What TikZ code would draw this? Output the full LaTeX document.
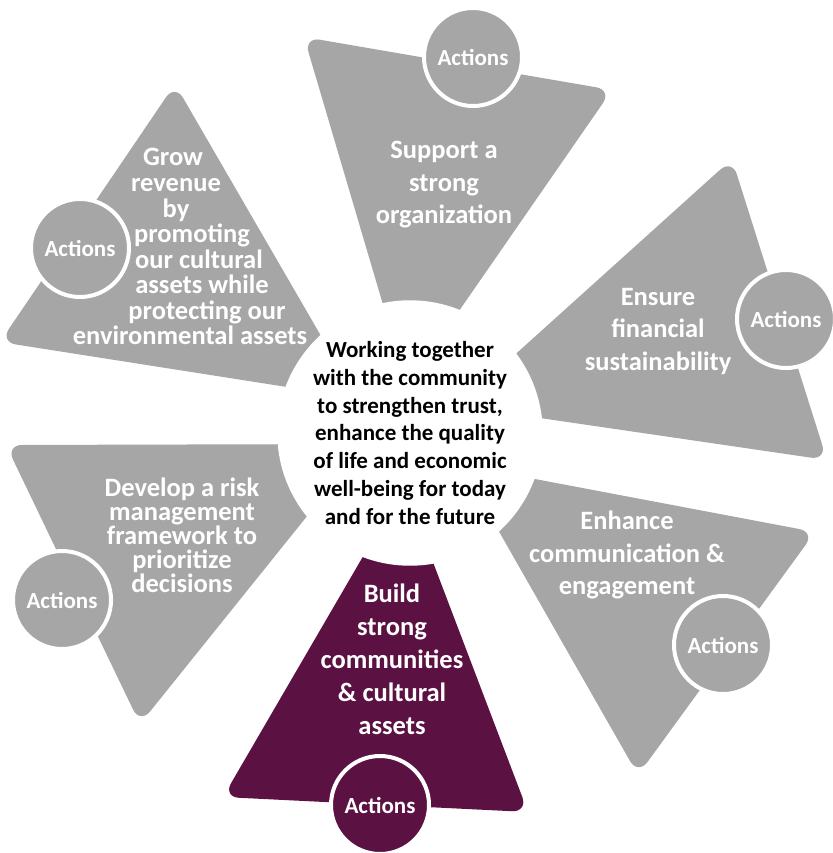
\documentclass[tikz,border=0pt]{standalone}
\usepackage{fontspec}
\setmainfont{Carlito}
\definecolor{petal}{RGB}{166,166,166}
\definecolor{plum}{RGB}{91,18,66}
\begin{document}
\begin{tikzpicture}[x=1pt,y=-1pt,
  petalshape/.style={fill=petal, rounded corners=16pt},
  actcircle/.style={circle, fill=petal, draw=white, line width=4pt, minimum size=98pt, inner sep=0pt,
    font=\fontsize{23}{27}\selectfont\bfseries, text=white},
  ptext/.style={align=center, text=white, inner sep=0pt, font=\fontsize{26.5}{32.5}\selectfont\bfseries},
  gline/.style={text=white, inner sep=0pt, anchor=base, font=\fontsize{26.5}{32.5}\selectfont\bfseries},
  hubstyle/.style={circle, fill=white, minimum size=244pt, inner sep=0pt, align=center,
    font=\fontsize{23}{27.7}\selectfont\bfseries, text=black}
]
\useasboundingbox (0,0) rectangle (832,853);
% petals
\fill[petalshape] (407,386) -- (304,37) -- (612,90) -- cycle;
\fill[petalshape] (458,406) -- (732,159) -- (827,460) -- cycle;
\fill[petalshape] (461,465) -- (815,532) -- (638,775) -- cycle;
\fill[petalshape, fill=plum] (404,486) -- (528,812) -- (223,797) -- cycle;
\fill[petalshape] (365,444) -- (140,724) -- (6,445) -- cycle;
\fill[petalshape] (357,398) -- (0,342) -- (175,84) -- cycle;
% hub
\coordinate (c) at (410,433);
\draw[black!10, line width=7pt] (c) circle[radius=123pt];
\draw[black!18, line width=3pt] (c) circle[radius=122pt];
\node[hubstyle] (hub) at (c) {Working together\\with the community\\to strengthen trust,\\enhance the quality\\of life and economic\\well-being for today\\and for the future};
% actions
\node[actcircle] (a1) at (473,57) {Actions};
\node[actcircle] (a2) at (786,319) {Actions};
\node[actcircle] (a3) at (723,645) {Actions};
\node[actcircle, fill=plum] (a4) at (380,805) {Actions};
\node[actcircle] (a5) at (62,600) {Actions};
\node[actcircle] (a6) at (80,248) {Actions};
% petal texts
\node[ptext] (t1) at (444,185) {Support a\\strong\\organization};
\node[ptext] (t2) at (658,331) {Ensure\\financial\\sustainability};
\node[ptext] (t3) at (627,555) {Enhance\\communication \&\\engagement};
\node[ptext, font=\fontsize{26.5}{33}\selectfont\bfseries] (t4) at (392,659) {Build\\strong\\communities\\\& cultural\\assets};
\node[ptext, font=\fontsize{26.5}{24}\selectfont\bfseries] (t5) at (182,535) {Develop a risk\\management\\framework to\\prioritize\\decisions};
\node[gline] (g1) at (173,166) {Grow};
\node[gline] (g2) at (176,191.5) {revenue};
\node[gline] (g3) at (176,217) {by};
\node[gline] (g4) at (192,242.5) {promoting};
\node[gline] (g5) at (199,268) {our cultural};
\node[gline] (g6) at (202,293.5) {assets while};
\node[gline] (g7) at (207,319) {protecting our};
\node[gline] (g8) at (190,344.5) {environmental assets};
\end{tikzpicture}
\end{document}
